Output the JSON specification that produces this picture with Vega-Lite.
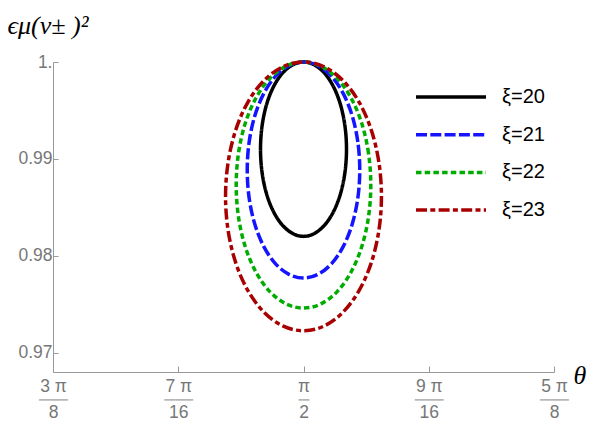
{
  "$schema": "https://vega.github.io/schema/vega-lite/v6.json",
  "autosize": {"type": "none"},
  "width": 501,
  "height": 310,
  "padding": {"left": 53, "top": 62, "right": 42, "bottom": 49},
  "background": "white",
  "config": {
    "view": {"stroke": null},
    "axis": {
      "domainColor": "#999999",
      "tickColor": "#999999",
      "labelColor": "#777777",
      "labelFont": "Liberation Sans",
      "labelFontSize": 17.5,
      "grid": false,
      "titleFont": "Liberation Serif",
      "titleFontStyle": "italic",
      "titleFontWeight": "normal",
      "titleColor": "#000000"
    }
  },
  "data": {"values": [
    {"xi":"ξ=20","t":0,"theta":1.6382,"v":0.991},
    {"xi":"ξ=20","t":1,"theta":1.6359,"v":0.99333},
    {"xi":"ξ=20","t":2,"theta":1.6292,"v":0.9955},
    {"xi":"ξ=20","t":3,"theta":1.6185,"v":0.99736},
    {"xi":"ξ=20","t":4,"theta":1.6045,"v":0.99879},
    {"xi":"ξ=20","t":5,"theta":1.5882,"v":0.99969},
    {"xi":"ξ=20","t":6,"theta":1.5708,"v":1.0},
    {"xi":"ξ=20","t":7,"theta":1.5534,"v":0.99969},
    {"xi":"ξ=20","t":8,"theta":1.5371,"v":0.99879},
    {"xi":"ξ=20","t":9,"theta":1.5231,"v":0.99736},
    {"xi":"ξ=20","t":10,"theta":1.5124,"v":0.9955},
    {"xi":"ξ=20","t":11,"theta":1.5057,"v":0.99333},
    {"xi":"ξ=20","t":12,"theta":1.5034,"v":0.991},
    {"xi":"ξ=20","t":13,"theta":1.5057,"v":0.98867},
    {"xi":"ξ=20","t":14,"theta":1.5124,"v":0.9865},
    {"xi":"ξ=20","t":15,"theta":1.5231,"v":0.98464},
    {"xi":"ξ=20","t":16,"theta":1.5371,"v":0.98321},
    {"xi":"ξ=20","t":17,"theta":1.5534,"v":0.98231},
    {"xi":"ξ=20","t":18,"theta":1.5708,"v":0.982},
    {"xi":"ξ=20","t":19,"theta":1.5882,"v":0.98231},
    {"xi":"ξ=20","t":20,"theta":1.6045,"v":0.98321},
    {"xi":"ξ=20","t":21,"theta":1.6185,"v":0.98464},
    {"xi":"ξ=20","t":22,"theta":1.6292,"v":0.9865},
    {"xi":"ξ=20","t":23,"theta":1.6359,"v":0.98867},

    {"xi":"ξ=21","t":0,"theta":1.6590,"v":0.98885},
    {"xi":"ξ=21","t":1,"theta":1.6560,"v":0.99174},
    {"xi":"ξ=21","t":2,"theta":1.6472,"v":0.99443},
    {"xi":"ξ=21","t":3,"theta":1.6332,"v":0.99673},
    {"xi":"ξ=21","t":4,"theta":1.6149,"v":0.99851},
    {"xi":"ξ=21","t":5,"theta":1.5936,"v":0.99962},
    {"xi":"ξ=21","t":6,"theta":1.5708,"v":1.0},
    {"xi":"ξ=21","t":7,"theta":1.5480,"v":0.99962},
    {"xi":"ξ=21","t":8,"theta":1.5267,"v":0.99851},
    {"xi":"ξ=21","t":9,"theta":1.5084,"v":0.99673},
    {"xi":"ξ=21","t":10,"theta":1.4944,"v":0.99443},
    {"xi":"ξ=21","t":11,"theta":1.4856,"v":0.99174},
    {"xi":"ξ=21","t":12,"theta":1.4826,"v":0.98885},
    {"xi":"ξ=21","t":13,"theta":1.4856,"v":0.98596},
    {"xi":"ξ=21","t":14,"theta":1.4944,"v":0.98327},
    {"xi":"ξ=21","t":15,"theta":1.5084,"v":0.98097},
    {"xi":"ξ=21","t":16,"theta":1.5267,"v":0.97919},
    {"xi":"ξ=21","t":17,"theta":1.5480,"v":0.97808},
    {"xi":"ξ=21","t":18,"theta":1.5708,"v":0.9777},
    {"xi":"ξ=21","t":19,"theta":1.5936,"v":0.97808},
    {"xi":"ξ=21","t":20,"theta":1.6149,"v":0.97919},
    {"xi":"ξ=21","t":21,"theta":1.6332,"v":0.98097},
    {"xi":"ξ=21","t":22,"theta":1.6472,"v":0.98327},
    {"xi":"ξ=21","t":23,"theta":1.6560,"v":0.98596},

    {"xi":"ξ=22","t":0,"theta":1.6763,"v":0.9873},
    {"xi":"ξ=22","t":1,"theta":1.6727,"v":0.99059},
    {"xi":"ξ=22","t":2,"theta":1.6622,"v":0.99365},
    {"xi":"ξ=22","t":3,"theta":1.6454,"v":0.99628},
    {"xi":"ξ=22","t":4,"theta":1.6236,"v":0.9983},
    {"xi":"ξ=22","t":5,"theta":1.5981,"v":0.99957},
    {"xi":"ξ=22","t":6,"theta":1.5708,"v":1.0},
    {"xi":"ξ=22","t":7,"theta":1.5435,"v":0.99957},
    {"xi":"ξ=22","t":8,"theta":1.5180,"v":0.9983},
    {"xi":"ξ=22","t":9,"theta":1.4962,"v":0.99628},
    {"xi":"ξ=22","t":10,"theta":1.4794,"v":0.99365},
    {"xi":"ξ=22","t":11,"theta":1.4689,"v":0.99059},
    {"xi":"ξ=22","t":12,"theta":1.4653,"v":0.9873},
    {"xi":"ξ=22","t":13,"theta":1.4689,"v":0.98401},
    {"xi":"ξ=22","t":14,"theta":1.4794,"v":0.98095},
    {"xi":"ξ=22","t":15,"theta":1.4962,"v":0.97832},
    {"xi":"ξ=22","t":16,"theta":1.5180,"v":0.9763},
    {"xi":"ξ=22","t":17,"theta":1.5435,"v":0.97503},
    {"xi":"ξ=22","t":18,"theta":1.5708,"v":0.9746},
    {"xi":"ξ=22","t":19,"theta":1.5981,"v":0.97503},
    {"xi":"ξ=22","t":20,"theta":1.6236,"v":0.9763},
    {"xi":"ξ=22","t":21,"theta":1.6454,"v":0.97832},
    {"xi":"ξ=22","t":22,"theta":1.6622,"v":0.98095},
    {"xi":"ξ=22","t":23,"theta":1.6727,"v":0.98401},

    {"xi":"ξ=23","t":0,"theta":1.6930,"v":0.98613},
    {"xi":"ξ=23","t":1,"theta":1.6888,"v":0.98972},
    {"xi":"ξ=23","t":2,"theta":1.6766,"v":0.99307},
    {"xi":"ξ=23","t":3,"theta":1.6572,"v":0.99594},
    {"xi":"ξ=23","t":4,"theta":1.6319,"v":0.99814},
    {"xi":"ξ=23","t":5,"theta":1.6024,"v":0.99953},
    {"xi":"ξ=23","t":6,"theta":1.5708,"v":1.0},
    {"xi":"ξ=23","t":7,"theta":1.5392,"v":0.99953},
    {"xi":"ξ=23","t":8,"theta":1.5097,"v":0.99814},
    {"xi":"ξ=23","t":9,"theta":1.4844,"v":0.99594},
    {"xi":"ξ=23","t":10,"theta":1.4650,"v":0.99307},
    {"xi":"ξ=23","t":11,"theta":1.4528,"v":0.98972},
    {"xi":"ξ=23","t":12,"theta":1.4486,"v":0.98613},
    {"xi":"ξ=23","t":13,"theta":1.4528,"v":0.98254},
    {"xi":"ξ=23","t":14,"theta":1.4650,"v":0.97919},
    {"xi":"ξ=23","t":15,"theta":1.4844,"v":0.97632},
    {"xi":"ξ=23","t":16,"theta":1.5097,"v":0.97412},
    {"xi":"ξ=23","t":17,"theta":1.5392,"v":0.97273},
    {"xi":"ξ=23","t":18,"theta":1.5708,"v":0.97226},
    {"xi":"ξ=23","t":19,"theta":1.6024,"v":0.97273},
    {"xi":"ξ=23","t":20,"theta":1.6319,"v":0.97412},
    {"xi":"ξ=23","t":21,"theta":1.6572,"v":0.97632},
    {"xi":"ξ=23","t":22,"theta":1.6766,"v":0.97919},
    {"xi":"ξ=23","t":23,"theta":1.6888,"v":0.98254}
  ]},
  "encoding": {
    "y": {
      "field": "v", "type": "quantitative",
      "scale": {"domain": [0.968, 1.0], "nice": false, "zero": false},
      "axis": {
        "values": [0.97, 0.98, 0.99, 1.0],
        "labelExpr": "datum.value == 1 ? '1.' : format(datum.value, '.2f')",
        "labelFontSize": 17.5,
        "labelPadding": 6,
        "tickSize": -5,
        "title": "ϵμ(v± )²",
        "titleFontSize": 26,
        "titleAngle": 0,
        "titleAlign": "left",
        "titleBaseline": "alphabetic",
        "titleX": -46,
        "titleY": -29
      }
    },
    "order": {"field": "t", "type": "quantitative"},
    "color": {
      "field": "xi", "type": "nominal",
      "scale": {"domain": ["ξ=20","ξ=21","ξ=22","ξ=23"], "range": ["#000000","#1414ff","#00ac00","#a80000"]},
      "legend": {
        "title": null,
        "orient": "none",
        "legendX": 361,
        "legendY": 20,
        "symbolType": "stroke",
        "symbolSize": 4900,
        "symbolStrokeWidth": 3.5,
        "clipHeight": 30,
        "labelFont": "Liberation Sans",
        "labelFontSize": 20,
        "labelColor": "#000000",
        "labelOffset": 14,
        "rowPadding": 7.7
      }
    },
    "strokeDash": {
      "field": "xi", "type": "nominal",
      "scale": {"domain": ["ξ=20","ξ=21","ξ=22","ξ=23"], "range": [[1,0],[11,3.3],[5.5,3.2],[11,3.3,5,3.3]]},
      "legend": {
        "title": null,
        "orient": "none",
        "legendX": 361,
        "legendY": 20,
        "symbolType": "stroke",
        "symbolSize": 4900,
        "symbolStrokeWidth": 3.5,
        "clipHeight": 30,
        "labelFont": "Liberation Sans",
        "labelFontSize": 20,
        "labelColor": "#000000",
        "labelOffset": 14,
        "rowPadding": 7.7
      }
    }
  },
  "layer": [
    {
      "transform": [{"filter": "datum.xi == 'ξ=20' || datum.xi == 'ξ=21'"}],
      "mark": {"type": "line", "interpolate": "cardinal-closed", "strokeWidth": 3.5},
      "encoding": {
        "x": {
          "field": "theta", "type": "quantitative",
          "scale": {"domain": [1.1781, 1.9635], "nice": false, "zero": false},
          "axis": {
            "orient": "bottom",
            "values": [1.1781, 1.37445, 1.5708, 1.76715, 1.9635],
            "labelExpr": "datum.value < 1.2 ? ['3 π','8'] : datum.value < 1.4 ? ['7 π','16'] : datum.value < 1.6 ? ['π','2'] : datum.value < 1.8 ? ['9 π','16'] : ['5 π','8']",
            "labelFontSize": 17.5,
            "labelLineHeight": 26,
            "labelBaseline": "top",
            "labelPadding": 11,
            "labelFlush": false,
            "labelOverlap": false,
            "labelBound": false,
            "tickSize": -6,
            "title": "θ",
            "titleFontSize": 26,
            "titleAngle": 0,
            "titleAlign": "left",
            "titleBaseline": "alphabetic",
            "titleX": 520,
            "titleY": 11
          }
        }
      }
    },
    {
      "transform": [{"filter": "datum.xi == 'ξ=22' || datum.xi == 'ξ=23'"}],
      "mark": {"type": "line", "interpolate": "cardinal-closed", "strokeWidth": 3.5},
      "encoding": {
        "x": {
          "field": "theta", "type": "quantitative",
          "axis": {
            "orient": "bottom",
            "values": [1.1781, 1.37445, 1.5708, 1.76715, 1.9635],
            "labelExpr": "datum.value > 1.5 && datum.value < 1.6 ? '━━━' : '━━━━━━━━'",
            "labelFont": "DejaVu Sans",
            "labelFontSize": 6,
            "labelColor": "#8a8a8a",
            "labelBaseline": "middle",
            "labelPadding": 27,
            "labelFlush": false,
            "labelOverlap": false,
            "labelBound": false,
            "domain": false,
            "ticks": false,
            "title": null
          }
        }
      }
    }
  ],
  "resolve": {"axis": {"x": "independent"}}
}
